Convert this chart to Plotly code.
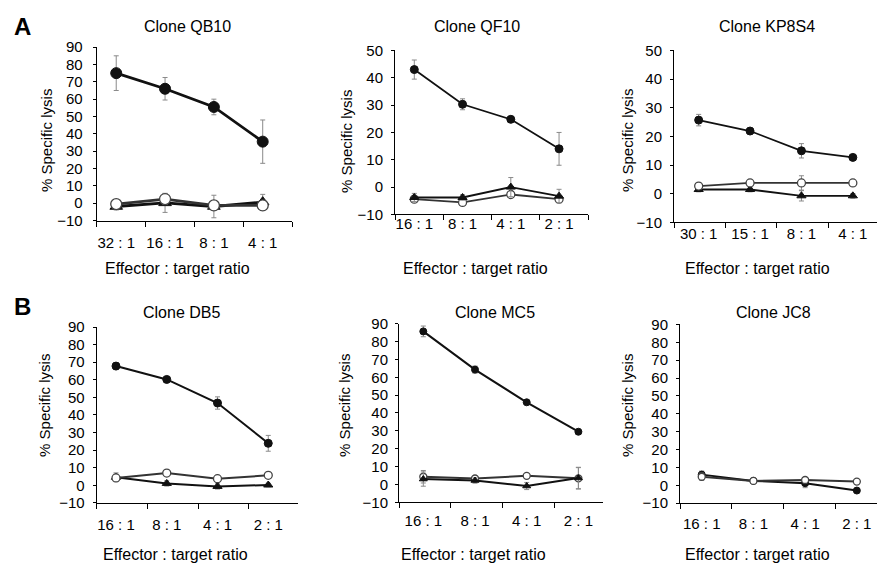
import plotly.graph_objects as go

W, H = 877, 575

# ---------------- data ----------------
qb10_ratios = ["32 : 1", "16 : 1", "8 : 1", "4 : 1"]
qb10_filled = [75, 66, 55.5, 35.5]
qb10_filled_err = [10, 6.5, 4.5, 12.5]
qb10_open = [-0.5, 2.4, -1.3, -1.3]
qb10_open_err = [2.5, 3, 2, 2]
qb10_tri = [-1.9, 0.2, -1.9, 0.6]
qb10_tri_err = [2, 5.5, 6.5, 4.5]

qf10_ratios = ["16 : 1", "8 : 1", "4 : 1", "2 : 1"]
qf10_filled = [43, 30.3, 24.8, 14]
qf10_filled_err = [3.5, 2, 1, 6]
qf10_tri = [-3.8, -3.8, 0, -3.3]
qf10_tri_err = [1.5, 1, 3.5, 2.5]
qf10_open = [-4.4, -5.6, -2.7, -4.4]
qf10_open_err = [1, 0.5, 1, 1]

kp8s4_ratios = ["30 : 1", "15 : 1", "8 : 1", "4 : 1"]
kp8s4_filled = [25.7, 21.9, 15, 12.7]
kp8s4_filled_err = [2, 1, 2.5, 1]
kp8s4_open = [2.7, 3.8, 3.8, 3.8]
kp8s4_open_err = [1, 1, 2.5, 1]
kp8s4_tri = [1.5, 1.5, -0.7, -0.7]
kp8s4_tri_err = [0.8, 0.8, 1.8, 0.8]

db5_ratios = ["16 : 1", "8 : 1", "4 : 1", "2 : 1"]
db5_filled = [67.8, 60.2, 46.8, 23.9]
db5_filled_err = [2, 1.5, 3.5, 4.5]
db5_open = [4.2, 7, 3.8, 5.7]
db5_open_err = [2, 1, 1, 1]
db5_tri = [4.6, 1.1, -0.6, 0.2]
db5_tri_err = [2.5, 1.5, 1.5, 1]

mc5_ratios = ["16 : 1", "8 : 1", "4 : 1", "2 : 1"]
mc5_filled = [85.7, 64.3, 46, 29.5]
mc5_filled_err = [3, 2, 1, 1]
mc5_open = [4.3, 3.3, 4.8, 3.4]
mc5_open_err = [3.5, 1, 1, 6]
mc5_tri = [3, 2.2, -0.9, 3.6]
mc5_tri_err = [4, 1.5, 2, 6]

jc8_ratios = ["16 : 1", "8 : 1", "4 : 1", "2 : 1"]
jc8_filled = [6, 2.5, 1.2, -2.9]
jc8_filled_err = [2, 0.5, 2.5, 1]
jc8_open = [4.8, 2.5, 3, 2.1]
jc8_open_err = [2, 0.5, 1, 1]

y_ticks_90 = [-10, 0, 10, 20, 30, 40, 50, 60, 70, 80, 90]
y_ticks_50 = [-10, 0, 10, 20, 30, 40, 50]

# ---------------- layout geometry (pixels) ----------------
FONT = "Liberation Sans, Arial, Helvetica, sans-serif"


def px_x(p):
    return p / W


def px_y(p):
    return 1 - p / H


panels = [
    dict(name="Clone QB10", ratios=qb10_ratios,
         series=[("tri", qb10_tri, qb10_tri_err), ("open", qb10_open, qb10_open_err),
                 ("filled", qb10_filled, qb10_filled_err)],
         yticks=y_ticks_90, x0=96.7, x1=292, y0=39.3, y1=218,
         xr=[-0.4, 3.6], t0=-0.4, msize=11, lw=2.8,
         title=(187, 18), xtitle=(177, 267), ytitle=(47, 136), xstand=8, ystand=7),
    dict(name="Clone QF10", ratios=qf10_ratios,
         series=[("open", qf10_open, qf10_open_err), ("tri", qf10_tri, qf10_tri_err),
                 ("filled", qf10_filled, qf10_filled_err)],
         yticks=y_ticks_50, x0=395, x1=588, y0=42.7, y1=211.7,
         xr=[-0.4, 3.6], t0=-0.4, msize=8, lw=1.8,
         title=(477, 18), xtitle=(475, 267), ytitle=(347, 137), xstand=-4, ystand=5),
    dict(name="Clone KP8S4", ratios=kp8s4_ratios,
         series=[("tri", kp8s4_tri, kp8s4_tri_err), ("open", kp8s4_open, kp8s4_open_err),
                 ("filled", kp8s4_filled, kp8s4_filled_err)],
         yticks=y_ticks_50, x0=674, x1=877, y0=42.7, y1=220,
         xr=[-0.48, 3.47], t0=-0.48, msize=8, lw=1.8,
         title=(767, 18), xtitle=(757, 267), ytitle=(628, 136), xstand=-2, ystand=5),
    dict(name="Clone DB5", ratios=db5_ratios,
         series=[("tri", db5_tri, db5_tri_err), ("open", db5_open, db5_open_err),
                 ("filled", db5_filled, db5_filled_err)],
         yticks=y_ticks_90, x0=96.7, x1=297.7, y0=327.7, y1=509,
         xr=[-0.38, 3.58], t0=-0.38, msize=8, lw=2,
         title=(181, 313), xtitle=(175, 562), ytitle=(45, 409), xstand=8, ystand=5),
    dict(name="Clone MC5", ratios=mc5_ratios,
         series=[("open", mc5_open, mc5_open_err), ("tri", mc5_tri, mc5_tri_err),
                 ("filled", mc5_filled, mc5_filled_err)],
         yticks=y_ticks_90, x0=399, x1=602.7, y0=324.3, y1=508.3,
         xr=[-0.47, 3.47], t0=-0.47, msize=7, lw=2,
         title=(495, 313), xtitle=(473, 562), ytitle=(345, 409), xstand=5, ystand=4),
    dict(name="Clone JC8", ratios=jc8_ratios,
         series=[("filled", jc8_filled, jc8_filled_err), ("open", jc8_open, jc8_open_err)],
         yticks=y_ticks_90, x0=680, x1=877, y0=325, y1=509.3,
         xr=[-0.42, 3.39], t0=-0.42, msize=7, lw=2,
         title=(773, 313), xtitle=(757, 562), ytitle=(628, 409), xstand=7, ystand=5),
]

fig = go.Figure()
annotations = []

for i, p in enumerate(panels):
    k = "" if i == 0 else str(i + 1)
    xa, ya = "x" + k, "y" + k
    xs = list(range(len(p["ratios"])))
    for kind, vals, errs in p["series"]:
        if kind == "filled":
            marker = dict(symbol="circle", size=p["msize"], color="#111111",
                          line=dict(color="#111111", width=1))
            lc = "#111111"
        elif kind == "open":
            marker = dict(symbol="circle", size=p["msize"], color="white",
                          line=dict(color="#444444", width=1.3))
            lc = "#333333"
        else:
            marker = dict(symbol="triangle-up", size=p["msize"], color="#111111",
                          line=dict(color="#111111", width=1))
            lc = "#111111"
        fig.add_trace(go.Scatter(
            x=xs, y=vals, mode="lines+markers", xaxis=xa, yaxis=ya,
            line=dict(color=lc, width=p["lw"]), marker=marker, showlegend=False,
            error_y=dict(type="data", array=errs, visible=True, color="#8a8a8a",
                         thickness=1, width=2.5),
        ))

    fig.layout["xaxis" + k] = dict(
        domain=[px_x(p["x0"]), px_x(p["x1"])], anchor=ya, range=p["xr"],
        tickvals=xs, ticktext=p["ratios"], ticks="", showgrid=False, zeroline=False,
        showline=True, linecolor="black", linewidth=1,
        tickfont=dict(family=FONT, size=15, color="black"),
        ticklabelstandoff=p["xstand"],
        minor=dict(tick0=p["t0"], dtick=1, ticks="outside", ticklen=5,
                   tickcolor="black", tickwidth=1, showgrid=False),
    )
    fig.layout["yaxis" + k] = dict(
        domain=[px_y(p["y1"]), px_y(p["y0"])], anchor=xa,
        range=[p["yticks"][0], p["yticks"][-1]], tickvals=p["yticks"],
        ticks="outside", ticklen=3, tickcolor="black", showgrid=False, zeroline=False,
        showline=True, linecolor="black", linewidth=1,
        tickfont=dict(family=FONT, size=15, color="black"),
        ticklabelstandoff=p["ystand"],
    )
    tx, ty = p["title"]
    annotations.append(dict(text=p["name"], x=px_x(tx), y=px_y(ty), xref="paper", yref="paper",
                            showarrow=False, xanchor="center", yanchor="middle",
                            font=dict(family=FONT, size=16, color="black")))
    tx, ty = p["xtitle"]
    annotations.append(dict(text="Effector : target ratio", x=px_x(tx), y=px_y(ty),
                            xref="paper", yref="paper", showarrow=False,
                            xanchor="center", yanchor="middle",
                            font=dict(family=FONT, size=16, color="black")))
    tx, ty = p["ytitle"]
    annotations.append(dict(text="% Specific lysis", x=px_x(tx), y=px_y(ty),
                            xref="paper", yref="paper", showarrow=False, textangle=-90,
                            xanchor="center", yanchor="middle",
                            font=dict(family=FONT, size=15, color="black")))

annotations.append(dict(text="<b>A</b>", x=px_x(22), y=px_y(18), xref="paper", yref="paper",
                        showarrow=False, xanchor="center", yanchor="middle",
                        font=dict(family=FONT, size=24, color="black")))
annotations.append(dict(text="<b>B</b>", x=px_x(22), y=px_y(307), xref="paper", yref="paper",
                        showarrow=False, xanchor="center", yanchor="middle",
                        font=dict(family=FONT, size=24, color="black")))

fig.update_layout(
    width=W, height=H, margin=dict(l=0, r=0, t=0, b=0),
    paper_bgcolor="white", plot_bgcolor="white",
    annotations=annotations, showlegend=False,
    font=dict(family=FONT, color="black"),
)

fig.write_html("out.html", config={"displayModeBar": False},
               post_script="document.body.style.margin='0';document.body.style.overflow='hidden';")
